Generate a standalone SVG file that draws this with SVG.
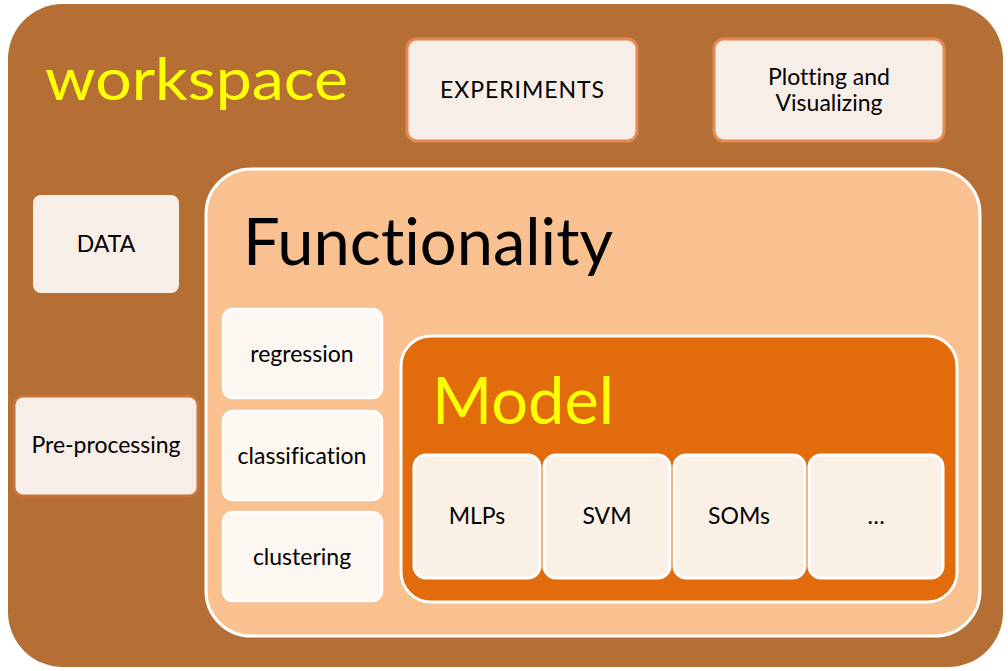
<svg xmlns="http://www.w3.org/2000/svg" width="1008" height="671" viewBox="0 0 1008 671">
<style>
text{font-variant-ligatures:none;font-feature-settings:"liga" 0,"clig" 0,"dlig" 0}
.lbl{font-family:Lato,"Open Sans","Liberation Sans",sans-serif;font-size:23px;fill:#000;text-anchor:middle}
.big{font-family:Lato,"Open Sans","Liberation Sans",sans-serif}
.light{fill:#f7eee8}
.top{fill:#f7eee8;stroke:#e38a55;stroke-width:3}
.fn{fill:#fdf7f2;stroke:#fff;stroke-width:2.5}
.md{fill:#fbf0e6;stroke:#fff;stroke-width:3}
</style>
<rect width="1008" height="671" fill="#fff"/>
<g id="workspace">
<rect x="8" y="4" width="995" height="663" rx="55" fill="#b56e33"/>
<text class="big" x="45" y="100" font-size="58" fill="#ffff00" textLength="303" lengthAdjust="spacingAndGlyphs">workspace</text>
</g>
<g id="experiments">
<rect class="top" x="407" y="39" width="230" height="102" rx="10"/>
<text class="lbl" x="522" y="98" textLength="164">EXPERIMENTS</text>
</g>
<g id="plotting">
<rect class="top" x="714" y="39" width="230" height="102" rx="10"/>
<text class="lbl" x="829" y="85">Plotting and</text>
<text class="lbl" x="829" y="111">Visualizing</text>
</g>
<g id="data">
<rect class="light" x="33" y="195" width="146" height="98" rx="8"/>
<text class="lbl" x="106" y="252">DATA</text>
</g>
<g id="preprocessing">
<rect x="14" y="396" width="184" height="100" rx="9" fill="#f7eee8" stroke="#c9743a" stroke-width="3"/>
<text class="lbl" x="106" y="453">Pre-processing</text>
</g>
<g id="functionality">
<rect x="206" y="169" width="774" height="467" rx="45" fill="#f9c090" stroke="#fff" stroke-width="3"/>
<text class="big" x="243" y="265" font-size="66" fill="#000" textLength="370" lengthAdjust="spacingAndGlyphs">Functionality</text>
</g>
<g id="regression">
<rect class="fn" x="223" y="309" width="159" height="89" rx="10"/>
<text class="lbl" x="302" y="362">regression</text>
</g>
<g id="classification">
<rect class="fn" x="223" y="411" width="159" height="89" rx="10"/>
<text class="lbl" x="302" y="464">classification</text>
</g>
<g id="clustering">
<rect class="fn" x="223" y="512" width="159" height="89" rx="10"/>
<text class="lbl" x="302" y="565">clustering</text>
</g>
<g id="model">
<rect x="401" y="336" width="556" height="266" rx="30" fill="#e26c0c" stroke="#fff" stroke-width="3"/>
<text class="big" x="432" y="424" font-size="66" fill="#ffff00" textLength="182" lengthAdjust="spacingAndGlyphs">Model</text>
</g>
<g id="mlps">
<rect class="md" x="414" y="455" width="126" height="123" rx="12"/>
<text class="lbl" x="477" y="524">MLPs</text>
</g>
<g id="svm">
<rect class="md" x="544" y="455" width="126" height="123" rx="12"/>
<text class="lbl" x="607" y="524">SVM</text>
</g>
<g id="soms">
<rect class="md" x="674" y="455" width="131" height="123" rx="12"/>
<text class="lbl" x="739" y="524">SOMs</text>
</g>
<g id="more">
<rect class="md" x="809" y="455" width="134" height="123" rx="12"/>
<text class="lbl" x="876" y="524">…</text>
</g>
<g id="connectors"></g>
</svg>
